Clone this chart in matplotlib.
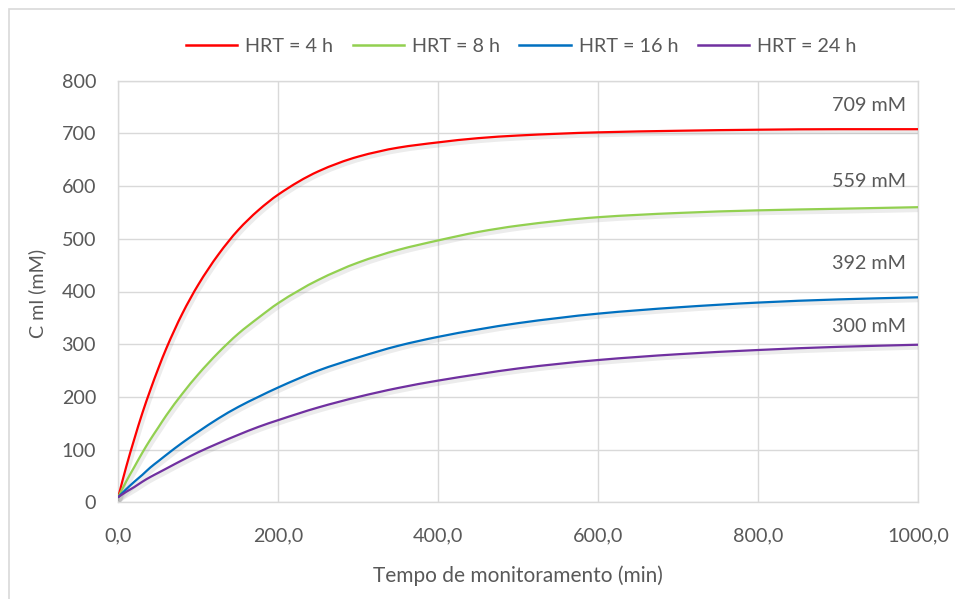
import numpy as np
import matplotlib
matplotlib.use('Agg')
import matplotlib.pyplot as plt
import matplotlib.patheffects as pe
from matplotlib.patches import Rectangle, PathPatch
from matplotlib.path import Path
from matplotlib.lines import Line2D
from matplotlib.ticker import FuncFormatter

plt.rcParams['font.family'] = ['Lato', 'DejaVu Sans']

# values
t_min = [0, 10, 20, 30, 40, 50, 60, 80, 100, 125, 150, 175, 200, 250, 300,
         350, 400, 450, 500, 600, 700, 800, 900, 1000]
c_hrt4 = [10, 68, 120, 169, 213, 254, 292, 358, 413, 470, 517, 554, 584, 628, 656,
          673, 683, 691, 696, 702, 705, 707, 708, 708]
c_hrt8 = [10, 40, 67, 94, 119, 142, 165, 206, 243, 284, 320, 350, 378, 422, 455,
          479, 497, 513, 525, 541, 549, 554, 557, 560]
c_hrt16 = [10, 25, 39, 52, 66, 78, 90, 113, 134, 159, 181, 200, 218, 250, 275,
           297, 314, 328, 340, 358, 370, 379, 385, 389]
c_hrt24 = [10, 20, 29, 39, 48, 56, 64, 80, 95, 112, 128, 143, 156, 180, 200,
           217, 231, 243, 254, 270, 281, 289, 295, 299]

labels = ['HRT = 4 h', 'HRT = 8 h', 'HRT = 16 h', 'HRT = 24 h']
colors = ['#ff0000', '#92d050', '#0070c0', '#7030a0']
end_labels = ['709 mM', '559 mM', '392 mM', '300 mM']
end_label_y = [753, 609, 453, 334]

txt = '#595959'
grid_c = '#d9d9d9'
fs = 14.2


def smooth_path(x, y):
    # Excel-like smoothed line: cubic Bezier segments through the given points
    x = np.asarray(x, float)
    y = np.asarray(y, float)
    h = np.diff(x)
    d = np.diff(y) / h
    m = np.zeros_like(y)
    for k in range(1, len(x) - 1):
        if d[k - 1] * d[k] > 0:
            w1 = 2 * h[k] + h[k - 1]
            w2 = h[k] + 2 * h[k - 1]
            m[k] = (w1 + w2) / (w1 / d[k - 1] + w2 / d[k])
    m[0] = d[0] + (d[0] - m[1]) * 0.5
    m[-1] = d[-1]
    verts = [(x[0], y[0])]
    codes = [Path.MOVETO]
    for k in range(len(x) - 1):
        verts += [(x[k] + h[k] / 3, y[k] + m[k] * h[k] / 3),
                  (x[k + 1] - h[k] / 3, y[k + 1] - m[k + 1] * h[k] / 3),
                  (x[k + 1], y[k + 1])]
        codes += [Path.CURVE4] * 3
    return Path(verts, codes)


fig = plt.figure(figsize=(9.55, 5.99), dpi=100)
ax = fig.add_axes([118.3 / 955, 1 - 502.3 / 599, 800 / 955, 421.6 / 599])

# chart area border (cropped on right and bottom in the original)
fig.patches.append(Rectangle((9 / 955, -0.05), 1.2, 1 - 9 / 599 + 0.05,
                             transform=fig.transFigure, fill=False,
                             edgecolor=grid_c, linewidth=1.2))

shadow = [pe.SimpleLineShadow(offset=(1.2, -1.8), shadow_color='gray', alpha=0.15, linewidth=3.5),
          pe.Normal()]
series = [c_hrt4, c_hrt8, c_hrt16, c_hrt24]
handles = []
for ys, lab, col in zip(series, labels, colors):
    ax.add_patch(PathPatch(smooth_path(t_min, ys), facecolor='none', edgecolor=col,
                           lw=1.6, path_effects=shadow, zorder=3, capstyle='round'))
    handles.append(Line2D([], [], color=col, lw=1.8, label=lab))

for lab, yv in zip(end_labels, end_label_y):
    ax.text(985, yv, lab, ha='right', va='center', fontsize=fs, color=txt)

ax.set_xlim(0, 1000)
ax.set_ylim(0, 800)
ax.set_xticks([0, 200, 400, 600, 800, 1000])
ax.set_yticks(np.arange(0, 801, 100))
ax.xaxis.set_major_formatter(FuncFormatter(lambda v, p: ('%.1f' % v).replace('.', ',')))
ax.grid(True, color=grid_c, lw=1.0)
ax.set_axisbelow(True)
for s in ax.spines.values():
    s.set_color(grid_c)
    s.set_linewidth(1.0)
ax.tick_params(length=0, labelsize=fs, labelcolor=txt)
ax.tick_params(axis='x', pad=18)
ax.tick_params(axis='y', pad=16)

fig.text(37 / 955, 1 - 293 / 599, 'C ml (mM)', rotation=90, ha='center', va='center',
         fontsize=fs, color=txt)
fig.text(518 / 955, 1 - 576 / 599, 'Tempo de monitoramento (min)', ha='center', va='center',
         fontsize=15, color=txt)

fig.legend(handles=handles, loc='center', bbox_to_anchor=(521 / 955, 1 - 46 / 599), ncol=4,
           frameon=False, fontsize=fs, labelcolor=txt, handlelength=2.6, handletextpad=0.4,
           columnspacing=1.0)

fig.savefig('out.png', dpi=100, facecolor='white')
